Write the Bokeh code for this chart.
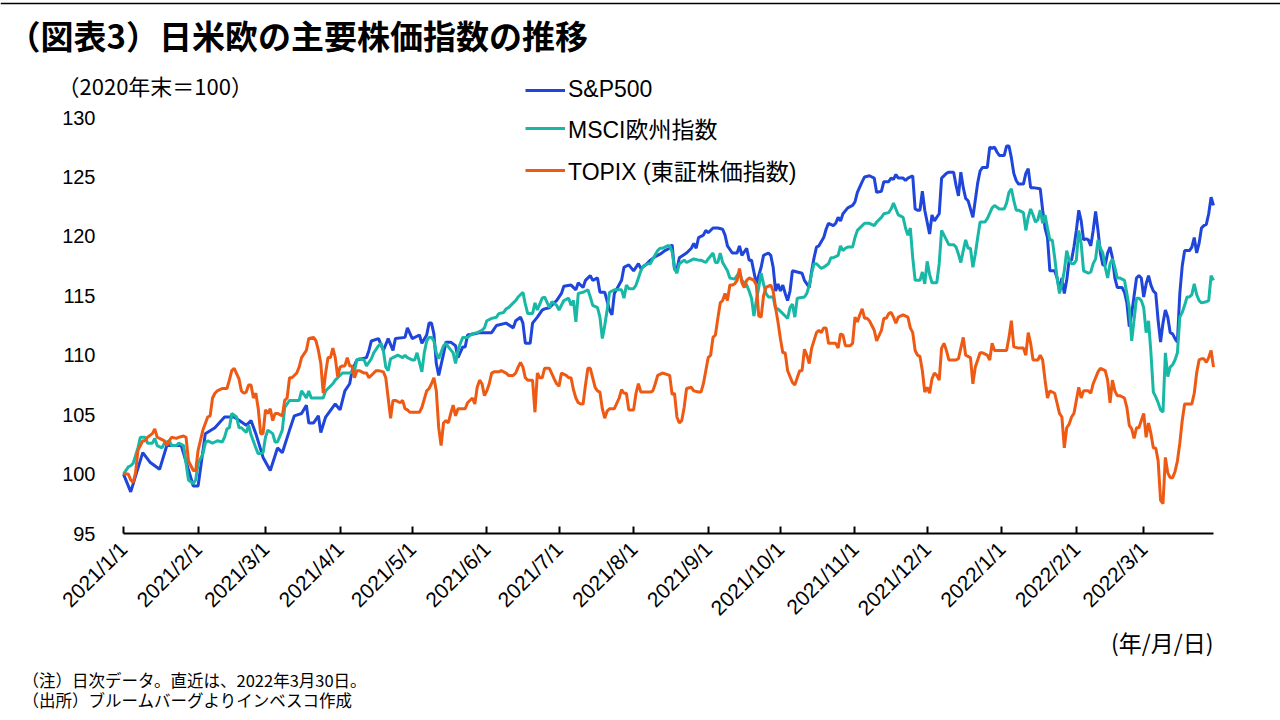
import pandas as pd
from bokeh.plotting import figure
from bokeh.models import ColumnDataSource, Range1d, FixedTicker, Legend, LegendItem, Label, Span
from bokeh.embed import file_html
from bokeh.resources import INLINE

# ---------------- data (day = days since 2021-01-01, index: end-2020 = 100) ----------------
sp500_day = [
    0, 3, 8, 11, 15, 18, 24, 29, 31, 34,
    38, 42, 46, 51, 53, 55, 58, 61, 64, 66,
    69, 71, 74, 76, 77, 79, 81, 82, 84, 88,
    90, 92, 94, 95, 97, 101, 102, 103, 106, 108,
    110, 112, 113, 117, 118, 120, 123, 124, 126, 127,
    128, 129, 130, 131, 133, 134, 136, 138, 139, 141,
    142, 143, 146, 148, 153, 155, 159, 162, 163, 165,
    166, 167, 169, 170, 172, 174, 175, 177, 180, 182,
    183, 186, 188, 189, 191, 192, 194, 195, 197, 198,
    200, 202, 203, 204, 207, 208, 210, 212, 214, 215,
    217, 219, 221, 223, 225, 227, 228, 229, 230, 231,
    234, 236, 237, 238, 239, 241, 242, 243, 245, 247,
    249, 250, 251, 253, 255, 256, 257, 259, 260, 261,
    262, 263, 265, 266, 268, 269, 270, 271, 272, 273,
    274, 275, 276, 277, 278, 280, 282, 283, 285, 286,
    287, 288, 289, 291, 292, 293, 295, 296, 297, 298,
    299, 301, 303, 304, 305, 307, 308, 310, 312, 313,
    315, 316, 318, 319, 320, 321, 322, 324, 325, 326,
    328, 329, 330, 331, 332, 333, 335, 336, 337, 339,
    340, 342, 343, 345, 346, 347, 348, 349, 350, 351,
    353, 355, 356, 357, 359, 360, 361, 362, 363, 364,
    366, 367, 368, 369, 370, 371, 372, 374, 375, 376,
    377, 378, 381, 382, 383, 384, 385, 387, 388, 389,
    390, 391, 392, 393, 394, 395, 396, 397, 398, 399,
    400, 401, 402, 403, 404, 405, 406, 407, 408, 409,
    410, 411, 412, 413, 415, 416, 417, 418, 419, 420,
    421, 422, 423, 424, 425, 426, 427, 428, 429, 430,
    431, 432, 433, 434, 435, 436, 437, 438, 439, 440,
    441, 443, 444, 445, 446, 447, 448, 449, 450, 451,
    452, 453,
]
sp500_val = [
    100.0, 98.5, 101.8, 101.0, 100.4, 102.4, 102.4, 99.0, 99.0, 103.4,
    103.9, 104.8, 104.8, 104.1, 104.5, 103.4, 101.4, 100.3, 102.2, 101.8,
    103.7, 104.9, 105.1, 105.8, 104.3, 104.3, 104.9, 103.5, 104.8, 105.9,
    105.4, 107.0, 107.6, 108.7, 109.6, 109.8, 110.4, 111.2, 111.4, 110.4,
    111.4, 110.4, 111.4, 111.5, 112.3, 111.4, 111.7, 111.0, 111.7, 112.7,
    112.7, 111.8, 109.3, 108.3, 110.1, 111.1, 111.1, 110.8, 109.8, 110.7,
    110.7, 111.7, 111.8, 111.9, 111.9, 112.5, 112.7, 112.3, 112.9, 113.2,
    112.7, 111.0, 111.0, 112.7, 113.2, 113.8, 113.9, 114.0, 114.6, 115.2,
    115.8, 115.9, 115.5, 116.1, 115.7, 116.3, 116.7, 116.3, 116.5, 115.3,
    115.3, 113.8, 113.4, 115.2, 116.3, 117.4, 117.6, 117.1, 117.7, 117.3,
    117.6, 118.0, 118.3, 118.5, 118.8, 119.0, 119.3, 117.2, 117.2, 118.2,
    118.6, 119.0, 119.4, 119.0, 119.9, 120.1, 120.5, 120.3, 120.7, 120.7,
    120.6, 120.1, 119.2, 118.6, 118.6, 119.2, 118.4, 119.0, 118.0, 118.0,
    117.0, 116.0, 117.4, 118.4, 118.6, 118.4, 117.4, 115.4, 116.0, 115.4,
    115.9, 115.2, 114.6, 115.4, 117.1, 117.0, 116.9, 116.3, 115.7, 117.1,
    118.2, 119.1, 119.2, 119.9, 120.6, 121.1, 120.9, 121.1, 121.6, 121.3,
    121.9, 122.4, 122.6, 122.9, 123.7, 124.6, 125.0, 125.1, 124.9, 123.7,
    123.8, 124.6, 124.6, 124.9, 124.8, 125.2, 124.9, 124.9, 124.7, 124.9,
    125.1, 122.3, 122.2, 122.2, 123.8, 122.2, 120.2, 121.8, 121.3, 121.9,
    124.9, 125.3, 125.4, 125.4, 124.3, 123.4, 125.4, 124.1, 123.2, 123.0,
    121.6, 124.5, 125.5, 125.8, 125.8, 127.5, 127.4, 127.5, 127.1, 126.8,
    126.8, 127.6, 127.6, 126.6, 125.3, 124.7, 124.4, 124.4, 125.3, 125.7,
    124.1, 124.1, 124.0, 122.2, 120.7, 119.9, 117.1, 117.1, 116.5, 115.5,
    116.5, 115.2, 116.3, 118.0, 118.0, 119.1, 120.5, 122.2, 121.3, 119.7,
    119.8, 119.7, 119.2, 120.5, 122.1, 120.5, 118.6, 117.6, 117.6, 118.6,
    119.1, 118.2, 116.5, 115.7, 115.7, 115.3, 114.4, 112.4, 113.5, 115.0,
    116.5, 116.7, 116.5, 114.9, 116.0, 116.7, 115.9, 115.4, 115.2, 112.9,
    111.1, 112.7, 113.8, 113.2, 111.9, 111.8, 111.4, 111.1, 115.2, 117.5,
    118.8, 118.8, 119.1, 119.9, 118.6, 119.4, 120.7, 120.9, 121.0, 121.9,
    123.3, 122.6,
]

msci_day = [
    0, 2, 3, 4, 6, 7, 9, 10, 12, 13,
    14, 16, 17, 19, 20, 22, 23, 25, 26, 27,
    29, 30, 31, 33, 34, 35, 37, 38, 39, 41,
    42, 43, 44, 45, 47, 48, 49, 51, 52, 53,
    55, 56, 58, 59, 60, 62, 63, 64, 66, 67,
    69, 71, 73, 74, 76, 77, 78, 80, 83, 84,
    85, 87, 88, 89, 91, 94, 96, 97, 98, 100,
    101, 103, 104, 106, 107, 108, 109, 110, 111, 112,
    114, 116, 117, 118, 120, 121, 122, 123, 124, 125,
    126, 127, 128, 129, 130, 131, 133, 134, 135, 137,
    138, 139, 140, 141, 143, 145, 147, 149, 150, 151,
    153, 155, 156, 158, 159, 160, 162, 163, 164, 166,
    167, 168, 170, 171, 172, 174, 175, 177, 178, 180,
    181, 182, 183, 185, 186, 187, 188, 189, 191, 193,
    194, 195, 197, 198, 199, 200, 201, 202, 204, 207,
    208, 209, 210, 212, 213, 214, 215, 216, 218, 219,
    220, 222, 223, 224, 226, 227, 228, 229, 230, 231,
    233, 234, 236, 237, 239, 240, 242, 243, 245, 246,
    247, 248, 249, 251, 252, 254, 255, 256, 257, 259,
    260, 261, 262, 263, 264, 265, 266, 267, 268, 270,
    271, 272, 274, 275, 276, 277, 278, 279, 280, 283,
    284, 285, 286, 287, 288, 290, 291, 293, 294, 295,
    297, 298, 299, 300, 301, 303, 304, 305, 307, 308,
    310, 312, 313, 315, 316, 318, 319, 320, 321, 322,
    324, 325, 326, 327, 328, 329, 331, 332, 333, 334,
    335, 336, 338, 339, 340, 342, 343, 345, 346, 347,
    348, 349, 350, 351, 352, 353, 354, 355, 356, 358,
    359, 361, 362, 364, 366, 367, 368, 369, 370, 371,
    372, 374, 375, 376, 377, 378, 379, 380, 381, 382,
    383, 384, 385, 386, 387, 388, 389, 390, 391, 392,
    393, 394, 395, 396, 397, 398, 399, 401, 402, 403,
    404, 405, 406, 407, 408, 409, 410, 411, 412, 413,
    414, 416, 417, 418, 419, 420, 421, 422, 423, 424,
    425, 426, 427, 428, 429, 430, 431, 432, 433, 434,
    435, 436, 437, 438, 439, 440, 441, 442, 443, 444,
    445, 446, 447, 448, 450, 451, 452, 453,
]
msci_val = [
    100.0, 100.6, 100.7, 100.9, 102.2, 103.1, 103.1, 102.6, 102.6, 103.0,
    102.4, 102.2, 102.6, 102.8, 102.4, 102.4, 102.6, 102.4, 100.9, 99.5,
    99.2, 99.5, 100.9, 101.7, 102.6, 102.8, 102.6, 102.7, 102.8, 102.7,
    103.1, 103.8, 103.9, 105.1, 104.8, 103.9, 103.9, 103.5, 104.1, 103.3,
    102.2, 101.7, 101.8, 103.1, 103.7, 103.4, 102.7, 102.7, 103.7, 105.6,
    106.2, 106.2, 106.2, 107.0, 106.4, 107.0, 106.4, 106.4, 106.4, 107.0,
    107.2, 107.6, 107.9, 108.1, 108.5, 108.5, 108.7, 109.6, 109.7, 109.6,
    109.1, 109.7, 110.2, 110.8, 111.0, 110.4, 109.0, 108.7, 109.7, 109.8,
    110.0, 109.8, 110.0, 109.8, 109.6, 109.6, 110.2, 109.4, 108.6, 110.2,
    111.2, 111.5, 111.5, 111.2, 110.2, 109.7, 110.8, 111.0, 110.7, 110.2,
    109.3, 110.4, 111.0, 111.5, 111.5, 111.8, 111.9, 112.1, 112.3, 112.9,
    113.1, 113.2, 113.5, 113.6, 113.9, 114.0, 114.4, 114.6, 114.9, 115.3,
    114.3, 113.5, 113.5, 114.4, 113.8, 114.8, 114.9, 114.0, 114.5, 114.2,
    113.8, 114.2, 114.6, 114.8, 114.2, 114.6, 112.8, 115.2, 115.3, 115.5,
    114.9, 114.2, 114.0, 113.2, 111.4, 112.5, 113.8, 115.3, 115.5, 115.5,
    114.8, 115.9, 115.6, 115.6, 115.9, 116.5, 117.1, 117.5, 117.7, 117.7,
    118.1, 118.8, 119.0, 119.0, 119.2, 119.2, 118.7, 117.3, 116.9, 117.7,
    118.0, 117.8, 118.0, 118.1, 118.0, 118.0, 117.8, 118.1, 118.6, 117.8,
    117.8, 118.6, 117.8, 117.1, 116.5, 116.4, 116.7, 117.0, 116.3, 115.9,
    115.4, 114.8, 113.3, 114.6, 115.7, 116.9, 116.0, 115.2, 114.9, 114.9,
    113.9, 113.9, 113.5, 113.3, 113.1, 114.0, 114.3, 113.2, 114.8, 114.9,
    115.2, 115.9, 116.9, 117.7, 117.7, 117.3, 117.4, 117.7, 118.2, 118.2,
    118.4, 119.2, 118.8, 119.0, 119.1, 119.1, 119.9, 120.5, 120.9, 121.1,
    121.1, 120.9, 121.2, 121.6, 121.9, 122.0, 122.3, 122.8, 122.3, 121.8,
    121.6, 120.7, 120.1, 120.7, 118.2, 116.3, 116.3, 117.0, 116.0, 117.9,
    116.8, 116.1, 116.1, 117.7, 120.5, 119.7, 119.3, 119.3, 119.1, 118.5,
    117.8, 118.8, 119.7, 119.0, 119.0, 117.4, 118.5, 119.9, 121.2, 121.2,
    121.5, 122.4, 122.6, 122.3, 122.3, 122.8, 123.7, 124.0, 123.0, 122.2,
    122.2, 122.0, 120.5, 121.6, 122.3, 121.8, 121.2, 121.4, 122.2, 121.1,
    121.8, 120.7, 119.7, 119.7, 118.2, 116.5, 115.2, 116.0, 117.1, 118.8,
    118.0, 117.7, 117.7, 118.0, 120.5, 119.4, 117.1, 116.9, 117.0, 117.7,
    118.1, 119.7, 119.0, 118.6, 117.4, 116.5, 117.7, 118.1, 117.4, 116.5,
    116.5, 116.3, 115.2, 114.0, 111.2, 113.0, 114.8, 114.8, 114.6, 114.0,
    111.9, 112.9, 110.2, 106.9, 106.5, 106.0, 105.4, 105.2, 110.2, 108.2,
    109.0, 109.2, 109.6, 110.2, 113.2, 113.6, 114.2, 114.9, 114.9, 115.1,
    116.0, 115.1, 114.6, 114.4, 114.5, 114.6, 116.7, 116.3,
]

topix_day = [
    0, 2, 3, 4, 5, 6, 8, 9, 10, 12,
    13, 14, 15, 17, 18, 19, 20, 22, 23, 25,
    26, 27, 29, 30, 31, 33, 35, 36, 37, 38,
    39, 41, 43, 44, 45, 46, 48, 49, 50, 51,
    52, 53, 54, 55, 56, 57, 58, 59, 60, 61,
    62, 63, 64, 66, 67, 68, 69, 70, 72, 73,
    74, 76, 77, 79, 80, 81, 82, 83, 84, 85,
    86, 87, 88, 89, 90, 91, 92, 93, 94, 95,
    96, 97, 98, 99, 100, 101, 102, 104, 105, 106,
    108, 109, 110, 111, 112, 113, 115, 116, 117, 118,
    119, 120, 121, 123, 124, 126, 127, 128, 129, 130,
    131, 132, 133, 134, 135, 136, 137, 138, 139, 141,
    142, 143, 145, 146, 147, 148, 149, 150, 151, 152,
    153, 154, 156, 157, 159, 160, 162, 163, 164, 165,
    166, 167, 168, 170, 171, 172, 173, 174, 175, 176,
    177, 179, 180, 181, 182, 184, 185, 186, 187, 188,
    189, 190, 191, 192, 193, 194, 195, 196, 197, 198,
    199, 200, 201, 202, 204, 206, 207, 208, 209, 210,
    212, 213, 214, 215, 219, 220, 221, 222, 224, 227,
    228, 229, 230, 231, 232, 233, 234, 236, 237, 239,
    240, 241, 242, 243, 244, 245, 246, 247, 248, 249,
    250, 251, 252, 253, 254, 255, 256, 257, 258, 259,
    260, 262, 263, 264, 265, 266, 267, 269, 270, 271,
    272, 273, 274, 275, 276, 278, 279, 280, 281, 282,
    283, 284, 285, 286, 288, 289, 290, 291, 292, 293,
    295, 296, 297, 298, 299, 300, 302, 303, 304, 305,
    306, 307, 308, 309, 310, 312, 313, 315, 316, 317,
    318, 319, 320, 321, 322, 324, 326, 327, 328, 329,
    330, 331, 332, 333, 334, 335, 336, 337, 338, 339,
    340, 341, 342, 343, 344, 346, 347, 349, 350, 352,
    353, 354, 355, 356, 357, 359, 360, 361, 362, 364,
    367, 368, 369, 370, 372, 374, 375, 376, 377, 378,
    380, 381, 382, 383, 384, 385, 387, 389, 390, 391,
    392, 393, 394, 395, 396, 397, 398, 399, 401, 402,
    403, 405, 406, 408, 409, 410, 411, 412, 413, 414,
    416, 417, 418, 419, 420, 421, 422, 423, 424, 425,
    426, 427, 428, 429, 430, 431, 432, 433, 434, 435,
    436, 437, 438, 439, 440, 441, 444, 445, 446, 447,
    448, 449, 450, 451, 452, 453,
]
topix_val = [
    100.0, 100.0, 99.5, 99.3, 100.1, 102.0, 102.8, 102.8, 103.1, 103.4,
    103.8, 103.1, 103.0, 102.8, 102.4, 102.8, 103.1, 103.0, 103.1, 103.2,
    103.1, 101.1, 100.3, 100.3, 102.0, 103.7, 104.8, 104.9, 106.4, 106.8,
    107.0, 107.2, 107.2, 107.9, 108.7, 108.9, 108.0, 107.0, 106.8, 106.9,
    107.5, 107.5, 106.4, 106.8, 105.5, 103.4, 103.4, 105.4, 105.1, 105.5,
    104.5, 105.1, 105.1, 104.9, 106.2, 106.4, 108.1, 108.1, 108.5, 109.0,
    109.8, 110.4, 111.4, 111.5, 111.2, 110.4, 109.3, 106.8, 108.5, 109.8,
    109.8, 110.6, 109.8, 108.2, 109.0, 109.1, 109.1, 109.8, 109.1, 109.1,
    108.1, 108.7, 108.7, 108.6, 108.5, 108.5, 108.1, 108.5, 108.7, 108.7,
    108.6, 108.1, 106.4, 104.7, 106.2, 106.2, 106.0, 106.2, 105.5, 105.4,
    105.2, 105.2, 105.2, 105.2, 105.6, 107.0, 107.2, 107.6, 108.1, 107.0,
    103.9, 102.4, 104.3, 104.5, 104.3, 105.1, 105.8, 104.9, 105.5, 105.5,
    105.5, 106.0, 106.4, 105.9, 107.3, 107.9, 107.6, 106.6, 107.0, 107.6,
    108.5, 108.6, 108.6, 108.7, 108.5, 108.3, 108.3, 108.5, 109.0, 109.4,
    109.0, 108.1, 107.9, 107.9, 105.2, 108.5, 108.1, 108.1, 108.9, 108.9,
    108.9, 108.0, 107.6, 107.4, 108.5, 108.3, 108.1, 108.1, 107.1, 106.4,
    106.0, 105.9, 105.9, 107.5, 108.9, 108.9, 108.1, 107.3, 107.0, 106.9,
    105.5, 104.7, 105.3, 105.5, 105.5, 106.4, 107.1, 106.8, 106.8, 105.4,
    105.4, 106.8, 107.6, 106.9, 106.9, 107.0, 107.6, 108.3, 108.5, 108.3,
    106.7, 106.8, 104.8, 104.3, 104.5, 105.6, 107.2, 107.3, 107.0, 106.9,
    106.9, 107.6, 108.7, 109.8, 110.0, 111.5, 111.7, 113.1, 114.4, 114.6,
    115.2, 114.6, 115.9, 115.9, 116.0, 116.3, 117.3, 116.1, 115.7, 116.3,
    116.5, 116.3, 115.9, 113.3, 113.2, 115.0, 115.7, 115.9, 115.4, 114.0,
    112.8, 111.4, 110.2, 110.2, 108.7, 107.7, 107.5, 108.1, 108.7, 108.7,
    110.5, 110.0, 109.3, 110.6, 111.9, 112.1, 111.9, 112.3, 112.3, 111.0,
    111.0, 111.0, 110.6, 111.8, 111.7, 110.8, 110.8, 111.0, 113.2, 112.8,
    113.4, 113.9, 113.1, 113.1, 112.9, 112.1, 111.2, 112.1, 113.1, 113.1,
    113.5, 113.6, 113.2, 112.7, 113.2, 113.4, 113.2, 112.3, 111.9, 110.4,
    110.0, 109.9, 108.7, 106.9, 107.3, 106.8, 108.0, 108.5, 108.3, 107.9,
    110.6, 111.0, 110.4, 109.6, 109.6, 109.6, 109.7, 111.5, 110.0, 109.8,
    107.6, 109.0, 109.6, 110.2, 110.2, 110.0, 109.6, 111.0, 110.4, 110.4,
    110.4, 111.5, 112.9, 110.7, 110.6, 110.6, 110.0, 111.9, 111.0, 109.6,
    109.6, 110.0, 109.6, 107.9, 106.4, 107.0, 106.8, 105.1, 104.8, 102.2,
    103.9, 104.2, 104.8, 105.1, 106.2, 107.3, 106.4, 107.0, 107.0, 106.8,
    107.6, 108.6, 108.9, 108.7, 107.9, 106.0, 107.9, 107.0, 106.6, 106.6,
    106.4, 105.6, 104.1, 103.8, 103.0, 103.9, 103.9, 104.5, 105.1, 103.1,
    104.3, 103.4, 102.2, 102.2, 101.1, 97.8, 97.5, 101.4, 100.1, 99.7,
    99.7, 100.2, 101.1, 102.6, 104.5, 105.9, 105.9, 106.8, 108.5, 109.6,
    109.7, 109.7, 109.4, 109.8, 110.4, 109.0,
]

series_names = ["S&P500", "MSCI欧州指数", "TOPIX (東証株価指数)"]
tick_labels = ["2021/1/1", "2021/2/1", "2021/3/1", "2021/4/1", "2021/5/1", "2021/6/1",
               "2021/7/1", "2021/8/1", "2021/9/1", "2021/10/1", "2021/11/1", "2021/12/1",
               "2022/1/1", "2022/2/1", "2022/3/1"]
y_ticks = [95, 100, 105, 110, 115, 120, 125, 130]

title_text = "（図表3）日米欧の主要株価指数の推移"
unit_text = "（2020年末＝100）"
xunit_text = "(年/月/日)"
note1 = "（注）日次データ。直近は、2022年3月30日。"
note2 = "（出所）ブルームバーグよりインベスコ作成"

# ---------------- layout constants (canvas pixels) ----------------
W, H = 1280, 720
AX_L, AX_R, AX_T, AX_B = 123, 1213, 117, 533   # where the data area sits on the canvas
Y_MIN, Y_MAX = 95, 130

BASE = pd.Timestamp("2021-01-01")
END = pd.Timestamp("2022-03-30")
EPOCH = pd.Timestamp("1970-01-01")


def to_dates(days):
    return BASE + pd.to_timedelta(days, unit="D")


assert len(sp500_day) == len(sp500_val)
assert len(msci_day) == len(msci_val)
assert len(topix_day) == len(topix_val)

src_sp = ColumnDataSource(dict(x=to_dates(sp500_day), y=sp500_val))
src_ms = ColumnDataSource(dict(x=to_dates(msci_day), y=msci_val))
src_tp = ColumnDataSource(dict(x=to_dates(topix_day), y=topix_val))

# The plot frame covers the whole canvas, so that every text can live inside it;
# the ranges are widened so that the data area lands on AX_L..AX_R / AX_T..AX_B.
span_days = (END - BASE) / pd.Timedelta(days=1)
px_per_day = (AX_R - AX_L) / span_days
px_per_unit = (AX_B - AX_T) / (Y_MAX - Y_MIN)
x_start = BASE - pd.Timedelta(days=AX_L / px_per_day)
x_end = END + pd.Timedelta(days=(W - AX_R) / px_per_day)
y_start = Y_MIN - (H - AX_B) / px_per_unit
y_end = Y_MAX + AX_T / px_per_unit

p = figure(width=W, height=H, x_axis_type="datetime", output_backend="svg",
           toolbar_location=None, x_range=Range1d(x_start, x_end),
           y_range=Range1d(y_start, y_end), min_border=0,
           min_border_left=0, min_border_right=0, min_border_top=0, min_border_bottom=0)
p.outline_line_color = None
p.grid.visible = False
p.background_fill_color = "white"
p.border_fill_color = "white"
p.title.text = ""

C_SP = "#1F45DA"
C_MS = "#19B8A6"
C_TP = "#EE5A14"

r_sp = p.line("x", "y", source=src_sp, line_color=C_SP, line_width=3)
r_ms = p.line("x", "y", source=src_ms, line_color=C_MS, line_width=3)
r_tp = p.line("x", "y", source=src_tp, line_color=C_TP, line_width=3)

base_ms = float((BASE - EPOCH) / pd.Timedelta(milliseconds=1))

# x axis, pinned at y = 95
tick_dt = pd.to_datetime(tick_labels, format="%Y/%m/%d")
tick_ms = [float((d - EPOCH) / pd.Timedelta(milliseconds=1)) for d in tick_dt]
xa = p.xaxis[0]
xa.fixed_location = Y_MIN
xa.bounds = (BASE, END)
xa.ticker = FixedTicker(ticks=tick_ms, minor_ticks=[])
xa.major_label_overrides = {t: lab for t, lab in zip(tick_ms, tick_labels)}
xa.major_label_orientation = 0.785398
xa.axis_line_color = "black"
xa.axis_line_width = 2
xa.major_tick_line_color = "black"
xa.major_tick_line_width = 2
xa.major_tick_in = 7
xa.major_tick_out = 0
xa.minor_tick_line_color = None
xa.major_label_text_font = "Liberation Sans"
xa.major_label_text_font_size = "21px"
xa.major_label_text_color = "black"
xa.major_label_standoff = 12

# y axis, pinned at the first date
ya = p.yaxis[0]
ya.fixed_location = base_ms
ya.bounds = (Y_MIN, Y_MAX)
ya.ticker = FixedTicker(ticks=y_ticks, minor_ticks=[])
ya.axis_line_color = None
ya.major_tick_line_color = None
ya.minor_tick_line_color = None
ya.major_tick_in = 0
ya.major_tick_out = 0
ya.major_label_text_font = "Liberation Sans"
ya.major_label_text_font_size = "20px"
ya.major_label_text_color = "black"
ya.major_label_standoff = 28

# legend
legend = Legend(items=[LegendItem(label=series_names[0], renderers=[r_sp]),
                       LegendItem(label=series_names[1], renderers=[r_ms]),
                       LegendItem(label=series_names[2], renderers=[r_tp])],
                location=(525, H - 187), orientation="vertical",
                label_text_font="Liberation Sans, Noto Sans CJK JP",
                label_text_font_size="23px", label_text_color="black",
                glyph_width=40, glyph_height=20, label_standoff=3,
                spacing=8, padding=0, margin=0,
                border_line_color=None, background_fill_alpha=0)
p.add_layout(legend)


# texts: screen units measured from the canvas' bottom-left corner (= frame corner)
def add_label(text, x, y_from_top, size, bold=False, align="left", font="Noto Sans CJK JP"):
    p.add_layout(Label(text=text, x=x, y=H - y_from_top, x_units="screen", y_units="screen",
                       text_font=font, text_font_size=size,
                       text_font_style="bold" if bold else "normal",
                       text_align=align, text_baseline="middle", text_color="black"))


add_label(title_text, 7, 34, "33px", bold=True)
add_label(unit_text, 57, 84, "22px")
add_label(xunit_text, AX_R, 641, "23px", align="right")
add_label(note1, 22, 679, "16.5px")
add_label(note2, 22, 699, "16.5px")

# thin rule along the top edge of the slide
p.add_layout(Span(location=y_end - 3 / px_per_unit, dimension="width",
                  line_color="black", line_width=1.5))

open("out.html", "w").write(file_html(p, INLINE))
